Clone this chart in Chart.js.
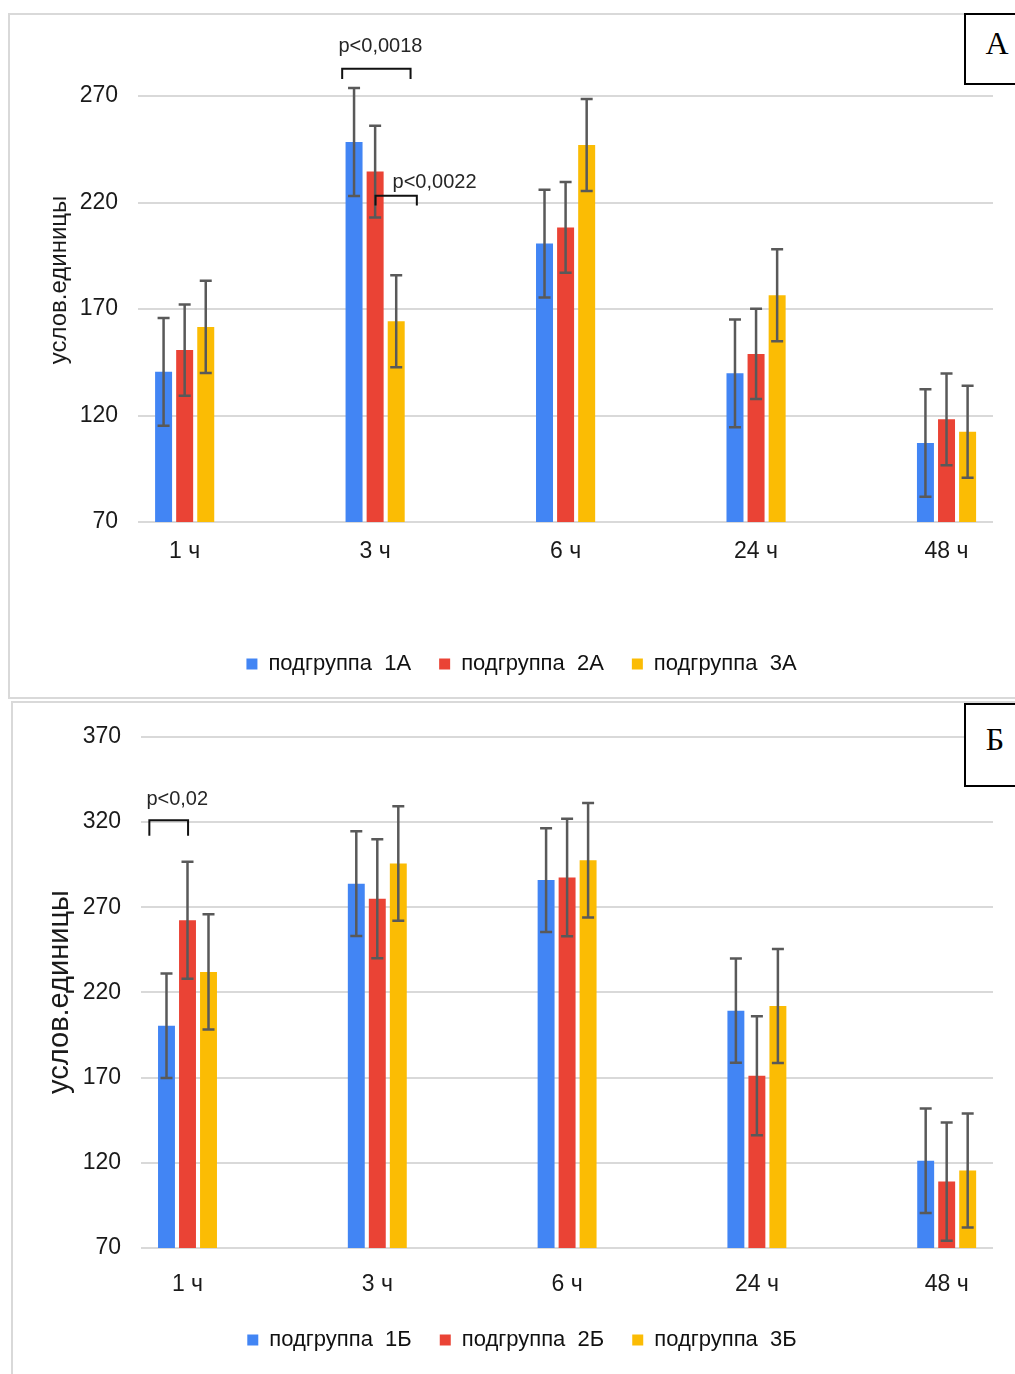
<!DOCTYPE html>
<html>
<head>
<meta charset="utf-8">
<script src="https://cdn.jsdelivr.net/npm/chart.js@4.4.1/dist/chart.umd.min.js"></script>
<style>
  body { margin: 0; background: #fff; width: 1015px; height: 1374px; overflow: hidden; position: relative; }
  .panel { position: absolute; border: 2px solid #d9d9d9; box-sizing: border-box; background: #fff; }
  #panelA { left: 8px; top: 13px; width: 1024px; height: 686px; }
  #panelB { left: 11px; top: 701px; width: 1024px; height: 690px; }
  .panel canvas { display: block; }
  .tag { position: absolute; border: 2px solid #000; background: #fff; box-sizing: border-box;
         font-family: 'Liberation Serif', 'Times New Roman', serif; font-size: 32px; color: #000; }
  .tag span { position: absolute; transform: translate(-50%, -50%); line-height: 1; }
  #tagA { left: 964px; top: 13px; width: 70px; height: 72px; }
  #tagB { left: 964px; top: 703px; width: 70px; height: 84px; }
</style>
</head>
<body>
<div class="panel" id="panelA"><canvas id="chartA" width="1020" height="682"></canvas></div>
<div class="panel" id="panelB"><canvas id="chartB" width="1020" height="686"></canvas></div>
<div class="tag" id="tagA"><span style="left:31px; top:28px;">А</span></div>
<div class="tag" id="tagB"><span style="left:29px; top:34px;">Б</span></div>
<script>
const hours = ['1 ч', '3 ч', '6 ч', '24 ч', '48 ч'];
const colors = ['#4285F4', '#EA4335', '#FBBC04'];

// panel А
const namesA = ['подгруппа  1А', 'подгруппа  2А', 'подгруппа  3А'];
const meanA1 = [140.5, 248.4, 200.7, 139.8, 107.1];
const meanA2 = [150.7, 234.5, 208.3, 148.9, 118.2];
const meanA3 = [161.6, 164.2, 247.0, 176.5, 112.4];
const sdA1 = [25.3, 25.3, 25.3, 25.3, 25.2];
const sdA2 = [21.4, 21.5, 21.3, 21.2, 21.5];
const sdA3 = [21.7, 21.6, 21.6, 21.6, 21.6];
const yTicksA = [70, 120, 170, 220, 270];

// panel Б
const namesB = ['подгруппа  1Б', 'подгруппа  2Б', 'подгруппа  3Б'];
const meanB1 = [200.4, 283.8, 285.9, 209.3, 121.2];
const meanB2 = [262.3, 275.0, 287.4, 171.1, 109.0];
const meanB3 = [232.0, 295.7, 297.5, 212.0, 115.5];
const sdB1 = [30.7, 30.7, 30.4, 30.6, 30.6];
const sdB2 = [34.3, 34.9, 34.5, 34.9, 34.7];
const sdB3 = [33.8, 33.6, 33.6, 33.4, 33.5];
const yTicksB = [70, 120, 170, 220, 270, 320, 370];

// significance brackets: x in category units, y in axis units
const bracketsA = [
  { x1: 0.827, x2: 1.186, top: 282.8, bottom: 278.0, text: 'p<0,0018', tx: 1.028, ty: 293.3 },
  { x1: 1.002, x2: 1.219, top: 223.2, bottom: 218.6, text: 'p<0,0022', tx: 1.312, ty: 229.2 }
];
const bracketsB = [
  { x1: -0.201, x2: 0.003, top: 321.1, bottom: 311.9, text: 'p<0,02', tx: -0.054, ty: 333.0 }
];

const FONT = "'Liberation Sans', Arial, sans-serif";
Chart.defaults.font.family = FONT;
Chart.defaults.color = '#1a1a1a';

const errorBars = {
  id: 'errorBars',
  afterDatasetsDraw(chart, args, opts) {
    const ctx = chart.ctx;
    const y = chart.scales.y;
    ctx.save();
    ctx.strokeStyle = '#595959';
    ctx.lineWidth = 2.5;
    chart.data.datasets.forEach((ds, i) => {
      chart.getDatasetMeta(i).data.forEach((bar, k) => {
        const v = ds.data[k].y, e = ds.errors[k];
        const top = y.getPixelForValue(v + e), bot = y.getPixelForValue(v - e);
        ctx.beginPath();
        ctx.moveTo(bar.x, top); ctx.lineTo(bar.x, bot);
        ctx.moveTo(bar.x - 6, top); ctx.lineTo(bar.x + 6, top);
        ctx.moveTo(bar.x - 6, bot); ctx.lineTo(bar.x + 6, bot);
        ctx.stroke();
      });
    });
    ctx.restore();
  }
};

const brackets = {
  id: 'brackets',
  afterDraw(chart, args, opts) {
    const ctx = chart.ctx;
    const xs = chart.scales.x, ys = chart.scales.y;
    ctx.save();
    (opts.items || []).forEach(b => {
      const x1 = xs.getPixelForValue(b.x1), x2 = xs.getPixelForValue(b.x2);
      const t = ys.getPixelForValue(b.top), bt = ys.getPixelForValue(b.bottom);
      ctx.strokeStyle = '#111';
      ctx.lineWidth = 2;
      ctx.beginPath();
      ctx.moveTo(x1, bt); ctx.lineTo(x1, t); ctx.lineTo(x2, t); ctx.lineTo(x2, bt);
      ctx.stroke();
      ctx.fillStyle = '#262626';
      ctx.font = '20px ' + FONT;
      ctx.textAlign = 'center';
      ctx.textBaseline = 'middle';
      ctx.fillText(b.text, xs.getPixelForValue(b.tx), ys.getPixelForValue(b.ty));
    });
    ctx.restore();
  }
};

// rotated caption of the value axis
const yCaption = {
  id: 'yCaption',
  afterDraw(chart, args, opts) {
    const ctx = chart.ctx;
    ctx.save();
    ctx.translate(opts.x, opts.y);
    ctx.rotate(-Math.PI / 2);
    ctx.fillStyle = '#1a1a1a';
    ctx.font = opts.size + 'px ' + FONT;
    ctx.textAlign = 'center';
    ctx.textBaseline = 'middle';
    ctx.fillText(opts.text, 0, 0);
    ctx.restore();
  }
};

function series(names, means, sds) {
  return names.map((n, i) => ({
    label: n,
    data: means[i].map((v, k) => ({ x: k, y: v })),
    errors: sds[i],
    backgroundColor: colors[i],
    borderWidth: 0,
    categoryPercentage: 0.332,
    barPercentage: 0.806
  }));
}

function makeChart(id, p) {
  return new Chart(document.getElementById(id), {
    type: 'bar',
    data: { datasets: series(p.names, p.means, p.sds) },
    plugins: [errorBars, brackets, yCaption],
    options: {
      responsive: false,
      animation: false,
      devicePixelRatio: 1,
      layout: { padding: p.padding },
      plugins: {
        legend: {
          position: 'bottom',
          labels: { boxWidth: 11, boxHeight: 11, padding: 28, color: '#111', font: { size: 22 } }
        },
        tooltip: { enabled: false },
        brackets: { items: p.brackets },
        yCaption: p.caption
      },
      scales: {
        x: {
          type: 'linear',
          offset: false,
          min: -0.245,
          max: 4.244,
          afterBuildTicks: s => { s.ticks = hours.map((h, k) => ({ value: k })); },
          afterFit: s => { s.height = p.xHeight; },
          grid: { display: false },
          border: { display: false },
          ticks: {
            padding: p.xPad,
            maxRotation: 0,
            autoSkip: false,
            color: '#1a1a1a',
            font: { size: 23 },
            callback: v => hours[v]
          }
        },
        y: {
          min: p.yTicks[0],
          max: p.yTicks[p.yTicks.length - 1],
          afterBuildTicks: s => { s.ticks = p.yTicks.map(v => ({ value: v })); },
          afterFit: s => { s.width = p.yWidth; },
          grid: { color: '#d9d9d9', lineWidth: 2, drawTicks: false },
          border: { display: false },
          ticks: { padding: 20, color: '#1a1a1a', font: { size: 23 } }
        }
      }
    }
  });
}

makeChart('chartA', {
  names: namesA,
  means: [meanA1, meanA2, meanA3],
  sds: [sdA1, sdA2, sdA3],
  yTicks: yTicksA,
  brackets: bracketsA,
  padding: { left: 40, right: 37, top: 81, bottom: 12 },
  yWidth: 88,
  xHeight: 103,
  xPad: 8,
  caption: { text: 'услов.единицы', x: 49, y: 265, size: 24 }
});

makeChart('chartB', {
  names: namesB,
  means: [meanB1, meanB2, meanB3],
  sds: [sdB1, sdB2, sdB3],
  yTicks: yTicksB,
  brackets: bracketsB,
  padding: { left: 38, right: 40, top: 32, bottom: 28 },
  yWidth: 90,
  xHeight: 53,
  xPad: 15,
  caption: { text: 'услов.единицы', x: 47, y: 289, size: 29 }
});
</script>
</body>
</html>
